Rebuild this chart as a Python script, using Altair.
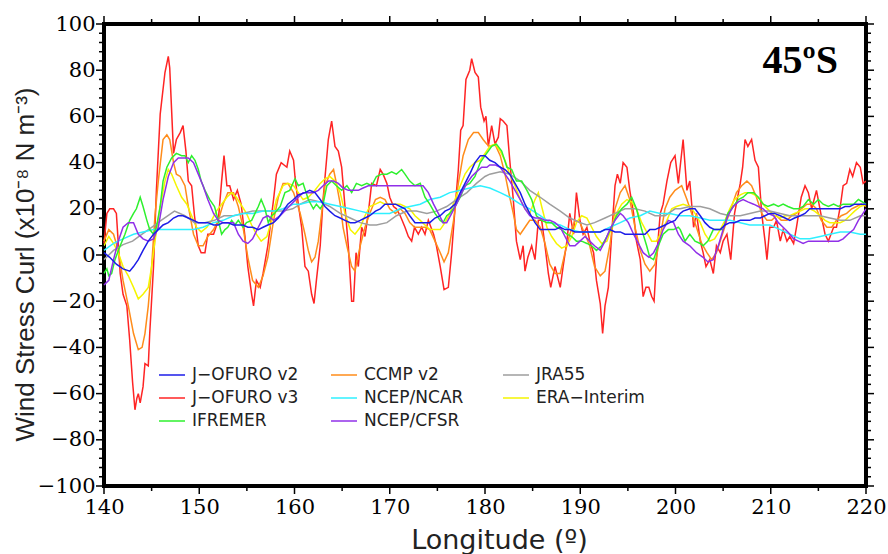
import altair as alt
import pandas as pd

# ---------------- data ----------------
J_OFURO_V2 = [(140,1),(140.6,-1),(141.3,-4),(142,-6),(142.7,-7),(143.1,-5),(143.6,-2),(144.1,2),(144.65,6),(145.2,9),
    (145.7,11),(146.2,13),(146.75,14),(147.3,16),(147.8,17),(148.3,17),(148.85,16),(149.4,15),(149.9,14),(150.4,14),
    (150.9,14),(151.5,13),(152,13),(152.5,14),(153,14),(153.6,13),(154.1,13),(154.6,13),(155.1,12),(155.6,12),
    (156.2,11),(156.7,12),(157.2,13),(157.8,14),(158.3,16),(158.8,19),(159.3,22),(159.9,24),(160.4,26),(161.1,27),
    (161.6,28),(162.15,27),(162.7,24),(163.2,21),(163.7,19),(164.25,17),(164.8,16),(165.3,15),(165.85,14),(166.35,14),
    (166.9,15),(167.4,16),(167.9,17),(168.5,19),(169,20),(169.5,22),(170,22),(170.6,22),(171.1,21),(171.6,20),
    (172.1,17),(172.65,14),(173.2,14),(173.7,14),(174.2,14),(174.75,16),(175.3,17),(175.8,19),(176.3,20),(176.85,22),
    (177.4,27),(177.9,31),(178.4,35),(178.95,40),(179.5,43),(180,43),(180.5,41),(181.05,40),(181.6,38),(182.1,37),
    (182.6,35),(183.15,31),(183.7,27),(184.2,22),(184.7,18),(185.25,14),(185.8,11),(186.3,11),(186.8,11),(187.35,11),
    (187.9,12),(188.4,11),(188.9,11),(189.45,10),(190,10),(190.5,10),(191,10),(191.5,10),(192.1,10),(192.6,11),
    (193.1,11),(193.65,10),(194.2,10),(194.7,9),(195.2,9),(195.75,9),(196.3,9),(196.8,9),(197.3,11),(197.85,11),
    (198.4,12),(198.9,13),(199.4,14),(199.95,15),(200.5,18),(200.8,19),(201.5,20),(202.05,20),(202.6,17),(203.1,14),
    (203.6,12),(204.1,11),(204.7,11),(205.2,13),(205.7,14),(206.2,14),(206.8,15),(207.3,15),(207.8,15),(208.35,16),
    (208.9,16),(209.4,17),(209.9,18),(210.4,18),(211,17),(211.5,16),(212,15),(212.5,16),(213.1,17),(213.6,18),
    (214.1,20),(214.6,20),(215.2,20),(215.7,20),(216.2,20),(216.7,20),(217.3,20),(217.8,21),(218.3,21),(218.8,22),
    (219.4,22),(220,22)]

J_OFURO_V3 = [(140,5),(140.3,18),(140.6,20),(141,20),(141.3,18),(141.7,-8),(142,-17),(142.4,-22),(142.7,-37),(143,-55),
    (143.25,-67),(143.45,-62),(143.6,-60),(143.8,-64),(144.1,-57),(144.3,-47),(144.65,-48),(144.8,-34),(145.2,-5),(145.5,28),
    (145.9,61),(146.4,79),(146.75,86),(146.9,81),(147.3,44),(147.6,50),(148,53),(148.3,56),(148.6,45),(148.85,32),
    (149.2,30),(149.5,17),(149.9,4),(150.2,1),(150.6,1),(150.9,9),(151.5,9),(152,15),(152.35,32),(152.6,43),
    (152.9,30),(153.2,30),(153.6,24),(154,28),(154.4,22),(154.8,8),(155.1,-5),(155.5,-17),(155.7,-22),(156,-11),
    (156.4,-14),(156.7,-8),(157.2,4),(157.8,24),(158.1,35),(158.6,40),(159.2,38),(159.5,45),(159.9,41),(160.05,34),
    (160.4,22),(160.75,12),(161.1,-5),(161.45,-7),(161.8,-17),(162.05,-21),(162.3,-11),(162.7,4),(163,24),(163.55,50),
    (163.9,58),(164.25,47),(164.6,45),(164.95,38),(165.3,21),(165.65,4),(166,-20),(166.2,-20),(166.46,1),(166.7,-5),
    (167.05,12),(167.4,8),(167.8,20),(168.1,31),(168.6,30),(169,37),(169.3,35),(169.7,31),(170,25),(170.4,21),
    (170.7,20),(171.1,17),(171.6,12),(171.95,8),(172.3,6),(172.6,12),(173,9),(173.35,12),(173.7,9),(174.05,15),
    (174.6,9),(174.9,4),(175.3,-5),(175.7,-15),(176.15,-14),(176.5,1),(176.85,20),(177.2,37),(177.45,54),(177.7,56),
    (178,76),(178.4,80),(178.6,85),(178.95,79),(179.3,77),(179.55,64),(179.9,58),(180.1,60),(180.35,47),(180.7,56),
    (181.05,48),(181.4,51),(181.6,59),(181.9,58),(182.3,56),(182.6,41),(182.97,24),(183.3,6),(183.7,-2),(184,4),
    (184.2,-7),(184.5,-1),(184.9,4),(185.25,-2),(185.6,15),(185.95,15),(186.3,4),(186.65,-8),(186.9,-14),(187.35,-5),
    (187.9,-14),(188.2,-5),(188.6,6),(188.9,18),(189.3,9),(189.6,27),(189.97,15),(190.3,9),(190.7,12),(191,6),
    (191.4,1),(191.7,-11),(192.1,-21),(192.35,-34),(192.6,-22),(192.95,-14),(193.3,9),(193.65,30),(193.9,35),(194.2,31),
    (194.5,40),(194.9,38),(195.2,28),(195.6,18),(195.9,6),(196.3,-2),(196.6,-18),(196.9,-14),(197.2,-14),(197.5,-18),
    (197.75,-20),(198,-2),(198.4,18),(198.7,22),(199.1,32),(199.5,40),(199.95,43),(200.3,31),(200.8,50),(201.2,28),
    (201.5,32),(201.9,12),(202.2,18),(202.6,6),(202.9,1),(203.2,-5),(203.6,-2),(203.97,-8),(204.3,4),(204.7,1),
    (205,6),(205.4,9),(205.8,-2),(206.2,18),(206.8,31),(207.05,38),(207.3,50),(207.6,47),(207.99,50),(208.35,41),
    (208.7,38),(209.05,18),(209.4,6),(209.6,-2),(209.9,12),(210.3,12),(210.6,15),(211,6),(211.3,11),(211.7,6),
    (212,8),(212.4,5),(212.7,12),(213.2,25),(213.6,30),(213.95,27),(214.3,20),(214.8,28),(215.3,17),(215.7,9),
    (216.05,6),(216.6,12),(216.9,12),(217.3,21),(217.6,30),(217.97,31),(218.3,37),(218.6,34),(219,40),(219.4,38),
    (219.7,31),(220,32)]

IFREMER = [(140,-8),(140.3,-6),(140.5,-9),(140.8,-8),(141.15,-2),(141.7,4),(142.2,9),(142.7,15),(143.1,18),(143.4,20),
    (143.8,25),(144.1,21),(144.5,15),(144.8,11),(145.2,9),(145.5,12),(145.9,21),(146.2,32),(146.6,38),(147.1,42),
    (147.6,44),(148.15,43),(148.5,43),(148.85,40),(149.2,43),(149.55,41),(149.9,37),(150.2,32),(150.6,28),(151.1,24),
    (151.6,21),(152,15),(152.35,9),(152.7,11),(153,12),(153.4,15),(153.75,13),(154.1,15),(154.6,12),(154.96,14),
    (155.5,15),(155.85,18),(156.2,21),(156.5,24),(156.9,20),(157.25,14),(157.6,17),(157.9,18),(158.5,21),(159,27),
    (159.5,28),(160.05,33),(160.4,30),(160.9,31),(161.45,24),(161.98,20),(162.3,22),(162.7,20),(163,22),(163.4,30),
    (163.9,32),(164.4,30),(164.95,28),(165.5,30),(166,27),(166.5,31),(167.05,30),(167.6,31),(168.1,30),(168.6,34),
    (169.15,35),(169.7,35),(170.2,36),(170.7,35),(171.25,37),(171.6,35),(172.1,32),(172.65,30),(173.2,31),(173.7,25),
    (174.2,22),(174.75,18),(175.3,15),(175.6,14),(175.98,17),(176.3,18),(176.85,21),(177.4,25),(177.9,30),(178.4,31),
    (178.95,34),(179.5,40),(180,43),(180.35,45),(180.7,47),(181.2,48),(181.75,45),(182.3,38),(182.8,37),(183.3,32),
    (183.85,32),(184.4,28),(184.9,24),(185.4,17),(185.95,15),(186.5,14),(187,14),(187.5,12),(188.05,11),(188.6,9),
    (189.1,8),(189.6,6),(190.15,6),(190.7,5),(191.2,4),(191.7,2),(192.25,4),(192.8,8),(193.3,12),(193.8,17),
    (194.35,20),(194.9,22),(195.4,25),(195.9,20),(196.45,11),(196.97,4),(197.3,-1),(197.7,-2),(198.2,4),(198.7,9),
    (199.25,11),(199.8,11),(200.3,12),(200.5,11),(201,6),(201.5,9),(202.05,6),(202.6,5),(202.9,4),(203.4,6),
    (203.97,11),(204.5,11),(205,11),(205.5,18),(206.07,21),(206.6,24),(207.1,25),(207.6,27),(208.2,27),(208.7,25),
    (209.2,22),(209.7,21),(210.3,22),(210.8,21),(211.3,22),(211.8,21),(212.4,20),(212.9,20),(213.4,21),(213.95,24),
    (214.5,22),(215,24),(215.5,22),(216.05,21),(216.6,22),(217.1,21),(217.6,22),(218.1,22),(218.7,22),(219.2,24),
    (220,22)]

CCMP_V2 = [(140,6),(140.5,11),(141,9),(141.5,2),(142,-11),(142.55,-22),(143.1,-34),(143.6,-41),(144,-40),(144.3,-34),
    (144.65,-22),(145,-5),(145.35,17),(145.7,32),(146.2,50),(146.6,52),(146.9,50),(147.3,40),(147.6,35),(148,34),
    (148.5,30),(148.85,21),(149.4,9),(149.9,4),(150.4,4),(150.9,8),(151.5,11),(152,15),(152.5,22),(153,27),
    (153.6,27),(154.1,21),(154.6,12),(155.1,-1),(155.6,-11),(156.2,-14),(156.7,-9),(157.2,-1),(157.8,15),(158.3,25),
    (158.8,31),(159.3,31),(159.9,27),(160.6,18),(161.1,9),(161.45,2),(161.8,-3),(162.15,-1),(162.5,6),(162.85,18),
    (163.2,30),(163.7,35),(164.1,37),(164.4,31),(164.8,22),(165.1,12),(165.5,4),(166,-5),(166.35,-7),(166.9,4),
    (167.4,12),(167.9,18),(168.5,24),(169,25),(169.5,24),(170,20),(170.6,18),(171.1,20),(171.6,18),(172.1,14),
    (172.6,12),(173.2,12),(173.7,12),(174.2,11),(174.75,6),(175.3,1),(175.7,-3),(176.15,1),(176.7,15),(177.2,31),
    (177.7,43),(178.25,50),(178.8,53),(179.3,53),(179.8,50),(180.2,48),(180.5,47),(181.05,48),(181.6,43),(182.1,35),
    (182.6,25),(182.97,18),(183.3,11),(183.7,9),(184.2,12),(184.7,15),(185.25,15),(185.8,12),(186.3,5),(186.8,-4),
    (187.35,-8),(187.9,-8),(188.4,1),(188.9,9),(189.45,15),(189.97,14),(190.5,9),(191,4),(191.5,-5),(192.1,-9),
    (192.6,-7),(193.1,4),(193.65,20),(194.2,27),(194.7,30),(195.2,24),(195.75,12),(196.3,2),(196.8,-4),(197.3,-7),
    (197.85,-4),(198.4,8),(198.9,20),(199.4,25),(199.95,28),(200.65,30),(201.2,24),(201.7,18),(202.2,12),(202.75,5),
    (203.3,1),(203.8,-2),(204.3,1),(204.85,8),(205.4,15),(205.9,21),(206.4,27),(206.95,30),(207.5,32),(207.99,30),
    (208.5,25),(209.05,18),(209.6,15),(210.1,15),(210.6,17),(211.1,15),(211.7,15),(212.2,17),(212.7,18),(213.2,20),
    (213.8,22),(214.3,22),(214.8,20),(215.3,15),(215.9,12),(216.4,12),(216.9,15),(217.4,17),(217.97,18),(218.5,20),
    (219,21),(219.5,22),(220,21)]

NCEP_NCAR = [(140,2),(141,5),(142,7),(143.1,9),(144.1,10),(145.2,11),(146.2,11),(147.3,11),(148.3,11),(149.4,11),
    (150.4,12),(151.5,14),(152.5,15),(153.6,17),(154.6,18),(155.6,18),(156.7,19),(157.8,19),(158.8,20),(159.9,22),
    (160.6,22),(161.6,23),(162.7,23),(163.7,22),(164.8,21),(165.85,20),(166.9,19),(167.9,18),(169,18),(170,18),
    (171.1,20),(172.1,21),(173.2,22),(174.2,24),(175.3,25),(176.3,27),(177.4,28),(178.4,29),(179.5,30),(180.5,29),
    (181.6,27),(182.6,25),(183.7,22),(184.7,20),(185.8,17),(186.8,14),(187.9,13),(188.9,11),(190,10),(191,10),
    (192.1,10),(193.1,12),(194.2,14),(195.2,16),(196.3,17),(197.3,19),(198.4,18),(199.4,18),(200.5,17),(201.5,17),
    (202.6,16),(203.6,15),(204.7,15),(205.7,15),(206.8,14),(207.8,13),(208.9,13),(209.9,13),(211,11),(212,9),
    (213.1,7),(214.1,7),(215.2,8),(216.2,9),(217.3,10),(218.3,10),(219.4,9),(220,9)]

NCEP_CFSR = [(140,-13),(140.5,-11),(141,-2),(141.5,6),(142,12),(142.55,14),(143.1,14),(143.6,9),(144.1,7),(144.65,6),
    (145.2,7),(145.7,12),(146.2,24),(146.75,34),(147.3,40),(147.8,42),(148.3,42),(148.85,42),(149.4,40),(149.9,35),
    (150.4,30),(150.9,24),(151.5,18),(152,15),(152.5,14),(153,14),(153.6,14),(154.1,9),(154.6,6),(155.1,5),
    (155.6,7),(156.2,12),(156.7,16),(157.2,17),(157.8,15),(158.5,17),(159.2,20),(159.9,23),(160.4,25),(160.9,27),
    (161.45,27),(161.98,27),(162.5,28),(163,30),(163.55,32),(164.1,32),(164.6,31),(165.1,29),(165.65,28),(166.2,28),
    (166.7,28),(167.2,29),(167.75,30),(168.3,30),(168.8,30),(169.3,30),(169.85,30),(170.4,30),(170.9,30),(171.4,30),
    (171.95,30),(172.5,30),(173,30),(173.5,30),(174.05,27),(174.6,22),(175.1,18),(175.6,14),(175.98,14),(176.5,18),
    (177,22),(177.55,27),(178.1,31),(178.6,34),(179.1,36),(179.65,38),(180.2,38),(180.5,39),(181.05,39),(181.6,38),
    (182.1,35),(182.6,32),(183.15,28),(183.7,24),(184.2,20),(184.7,17),(185.25,16),(185.8,16),(186.3,15),(186.8,15),
    (187.35,14),(187.9,12),(188.4,8),(188.9,4),(189.45,4),(189.97,6),(190.5,8),(191,6),(191.5,4),(192.1,2),
    (192.6,6),(193.1,11),(193.65,15),(194.2,18),(194.5,17),(195.05,14),(195.6,9),(196.1,5),(196.6,1),(197.2,-1),
    (197.7,1),(198.2,5),(198.7,11),(199.25,15),(199.8,14),(200.3,9),(200.8,6),(201.5,4),(202.2,1),(202.9,-1),
    (203.4,-3),(203.97,-2),(204.5,4),(205,11),(205.5,17),(206.07,21),(206.6,23),(207.1,24),(207.6,23),(208.2,22),
    (208.7,21),(209.2,20),(209.7,18),(210.3,17),(210.8,14),(211.3,12),(211.8,10),(212.4,7),(212.9,6),(213.4,5),
    (213.95,6),(214.5,6),(215,6),(215.5,6),(216.05,6),(216.6,6),(217.1,6),(217.6,7),(218.1,9),(218.7,11),
    (219.2,15),(220,20)]

JRA55 = [(140,-2),(141,2),(142,4.5),(143,6),(144,9),(145,12),(146,15),(147.4,19),(148.5,17),(149.5,14),
    (150.6,14),(151.6,15),(152.6,17),(153.6,17),(154.6,18),(155.6,19),(156.7,19),(157.7,19),(158.8,19),(159.8,20),
    (160.6,22),(161.6,24),(162.7,23),(163.7,21),(164.8,18),(165.85,16),(166.9,14),(167.9,13),(168.6,13),(169.7,14),
    (170.7,17),(171.8,19),(172.8,19),(173.9,18),(174.9,19),(175.98,21),(177,24),(178.1,27),(179.1,31),(180,34),
    (180.5,35),(181.6,36),(182.6,35),(183.7,32),(184.7,28),(185.8,25),(186.8,22),(187.9,19),(188.9,16),(190,14),
    (190.7,13),(191.5,14),(192.6,16),(193.65,18),(194.7,20),(195.75,20),(196.8,19),(197.85,17),(198.9,17),(199.95,20),
    (200.5,20),(201.5,21),(202.6,21),(203.6,20),(204.7,18),(205.7,17),(206.8,17),(207.8,18),(208.9,19),(209.9,19),
    (211,18),(212,17),(213.1,17),(214.1,17),(215.2,17),(216.2,16),(217.3,15),(218.3,15),(219.4,17),(220,17)]

ERA_INTERIM = [(140,4),(140.5,8),(141,5),(141.5,1),(142,-5),(142.55,-9),(143.1,-14),(143.6,-19),(144.1,-17),(144.65,-14),
    (145,-5),(145.35,6),(145.9,21),(146.4,32),(146.75,37),(147.1,35),(147.6,30),(148.15,25),(148.7,22),(149.2,17),
    (149.7,12),(150.2,10),(150.8,12),(151.3,15),(151.8,19),(152.35,22),(152.9,25),(153.4,27),(153.9,25),(154.5,21),
    (154.96,18),(155.5,13),(156,9),(156.5,6),(157.1,8),(157.6,15),(158.1,24),(158.8,30),(159.3,31),(159.9,30),
    (160.4,27),(160.9,24),(161.45,25),(162.15,28),(162.7,31),(163.2,33),(163.7,34),(164.25,32),(164.8,27),(165.3,18),
    (165.85,11),(166.35,9),(166.9,12),(167.4,17),(167.9,21),(168.5,22),(169,23),(169.5,22),(170,22),(170.6,22),
    (171.1,22),(171.6,21),(172.1,20),(172.65,17),(173.2,15),(173.7,13),(174.2,11),(174.75,11),(175.3,11),(175.8,14),
    (176.3,18),(176.85,24),(177.4,30),(177.9,35),(178.4,38),(178.95,40),(179.5,41),(180,44),(180.5,47),(181.05,48),
    (181.6,45),(182.1,41),(182.6,35),(183.15,30),(183.7,24),(184.2,20),(184.7,18),(185.25,24),(185.6,27),(185.95,21),
    (186.5,12),(187,8),(187.5,5),(188.05,3),(188.6,4),(189.1,8),(189.6,14),(190.15,17),(190.7,16),(191.2,12),
    (191.7,8),(192.25,5),(192.8,6),(193.3,12),(193.8,18),(194.35,22),(194.9,24),(195.4,23),(195.9,20),(196.45,14),
    (196.97,10),(197.5,6),(198,6),(198.55,10),(199.1,15),(199.6,20),(200.1,21),(200.8,22),(201.5,21),(202.05,18),
    (202.6,14),(203.1,9),(203.6,6),(204.1,7),(204.7,11),(205.2,15),(205.7,20),(206.2,24),(206.8,26),(207.3,27),
    (207.8,27),(208.35,26),(208.9,24),(209.4,21),(209.9,19),(210.4,17),(211,16),(211.5,17),(212,17),(212.5,18),
    (213.1,19),(213.6,20),(214.1,20),(214.6,19),(215.2,17),(215.7,15),(216.2,14),(216.7,14),(217.3,14),(217.8,15),
    (218.3,17),(218.8,19),(219.4,21),(220,22)]

# legend order (column-major, 3 columns) and colours
LEGEND_ORDER = ["J−OFURO v2", "J−OFURO v3", "IFREMER",
                "CCMP v2", "NCEP/NCAR", "NCEP/CFSR",
                "JRA55", "ERA−Interim"]
LEGEND_COLORS = ["#1c1ce8", "#ff2424", "#2ef02e",
                 "#ff8c1a", "#2ff0ff", "#9030e8",
                 "#9e9e9e", "#f5f500"]

# drawing order (first drawn = bottom)
DRAW = [("J−OFURO v3", J_OFURO_V3), ("CCMP v2", CCMP_V2), ("ERA−Interim", ERA_INTERIM),
        ("JRA55", JRA55), ("NCEP/NCAR", NCEP_NCAR), ("IFREMER", IFREMER),
        ("NCEP/CFSR", NCEP_CFSR), ("J−OFURO v2", J_OFURO_V2)]

X_MAJOR = [140, 150, 160, 170, 180, 190, 200, 210, 220]
X_MINOR = [145, 155, 165, 175, 185, 195, 205, 215]
Y_MAJOR = [-100, -80, -60, -40, -20, 0, 20, 40, 60, 80, 100]
Y_MINOR = [v for v in range(-96, 100, 4) if v % 20 != 0]

PANEL_LABEL = "45ºS"
X_TITLE = "Longitude (º)"
Y_TITLE = "Wind Stress Curl (x10⁻⁸ N m⁻³)"

# ---------------- chart ----------------
W, H = 762, 462

rows = []
for k, (name, pts) in enumerate(DRAW):
    for i, (lo, v) in enumerate(pts):
        rows.append({"series": name, "lon": lo, "val": v, "k": k, "i": i})
df = pd.DataFrame(rows)

xs = alt.Scale(domain=[140, 220], nice=False, zero=False)
ys = alt.Scale(domain=[-100, 100], nice=False, zero=False)

X_AXIS = alt.Axis(values=X_MAJOR, title=X_TITLE, format="d",
                  labelBaseline="alphabetic", labelPadding=27,
                  titleX=395, titleY=62, titleBaseline="alphabetic",
                  titleFont="DejaVu Sans", titleFontSize=27)
Y_AXIS = alt.Axis(values=Y_MAJOR, title=Y_TITLE, format="d",
                  labelPadding=9, titleX=-71, titleY=240,
                  titleBaseline="alphabetic", titleAngle=-90,
                  titleFont="Liberation Sans", titleFontSize=26)

lines = alt.Chart(df).mark_line(strokeWidth=1.5).encode(
    x=alt.X("lon:Q", scale=xs, axis=X_AXIS),
    y=alt.Y("val:Q", scale=ys, axis=Y_AXIS),
    color=alt.Color("series:N",
                    scale=alt.Scale(domain=LEGEND_ORDER, range=LEGEND_COLORS),
                    legend=alt.Legend(orient="none", legendX=57, legendY=340,
                                      columns=3, title=None,
                                      symbolType="M-1.3,0H1.3", symbolSize=400,
                                      symbolStrokeWidth=1.5,
                                      labelFont="DejaVu Sans", labelFontSize=17,
                                      labelColor="#222222", labelOffset=9,
                                      labelLimit=300,
                                      columnPadding=27, rowPadding=4,
                                      gridAlign="all", padding=0)),
    detail="k:O",
    order="i:Q",
)


def xticks(vals, y0, y1):
    return alt.Chart(pd.DataFrame({"lon": vals})).mark_rule(color="black", strokeWidth=1.5).encode(
        x=alt.X("lon:Q", scale=xs, axis=X_AXIS), y=alt.value(y0), y2=alt.value(y1))


def yticks(vals, x0, x1):
    return alt.Chart(pd.DataFrame({"val": vals})).mark_rule(color="black", strokeWidth=1.5).encode(
        y=alt.Y("val:Q", scale=ys, axis=Y_AXIS), x=alt.value(x0), x2=alt.value(x1))


ticks = [
    xticks(X_MAJOR, H, H + 8), xticks(X_MINOR, H, H + 5),
    xticks(X_MAJOR, 0, -8), xticks(X_MINOR, 0, -5),
    yticks(Y_MAJOR, 0, -8), yticks(Y_MINOR, 0, -5),
    yticks(Y_MAJOR, W, W + 8), yticks(Y_MINOR, W, W + 5),
]

label = alt.Chart(pd.DataFrame({"t": [PANEL_LABEL]})).mark_text(
    font="Liberation Serif", fontSize=40, fontWeight="bold", color="black",
    align="right", baseline="alphabetic").encode(
    text="t:N", x=alt.value(734), y=alt.value(49))

chart = alt.layer(lines, *ticks, label).properties(
    width=W, height=H,
    padding={"left": 104, "top": 24, "right": 22, "bottom": 68},
    autosize=alt.AutoSizeParams(type="none"),
    background="white",
).configure_view(
    stroke="black", strokeWidth=4,
).configure_axis(
    grid=False, domain=False, ticks=False, tickSize=0,
    labelFont="DejaVu Serif", labelFontSize=21, labelColor="black",
    labelFlush=False, labelOverlap=False, labelBound=False,
    titleColor="#222222", titleFontWeight="normal",
)

chart.save("out.html", embed_options={"renderer": "svg", "actions": False})
